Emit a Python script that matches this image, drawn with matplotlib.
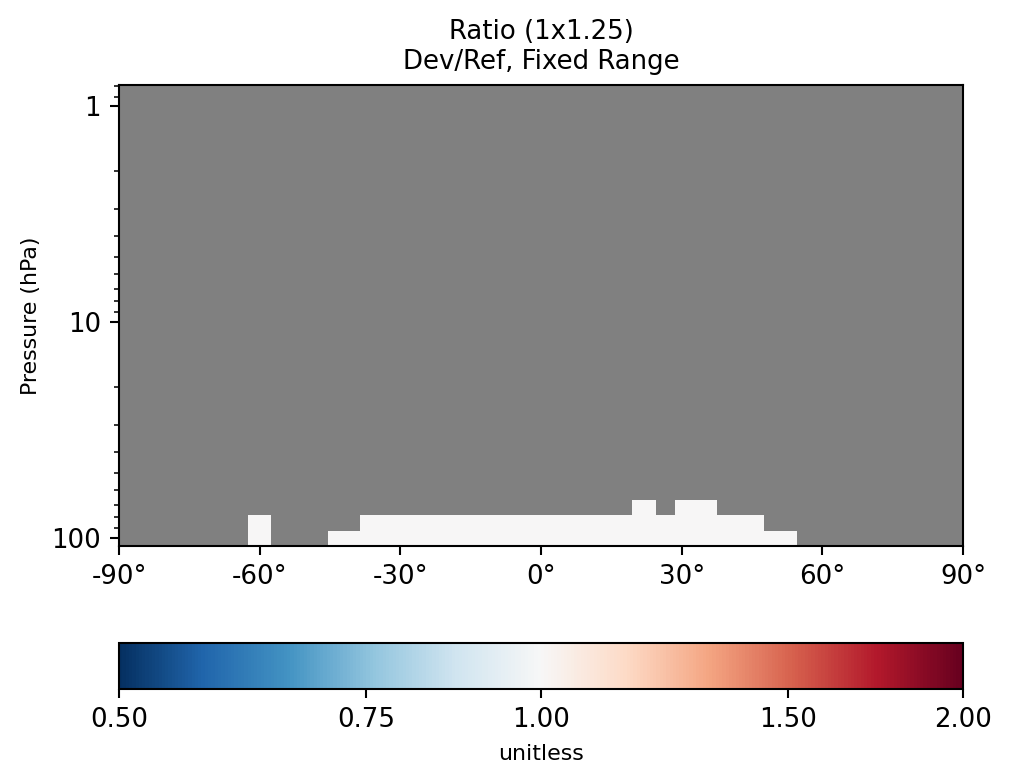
import numpy as np
import matplotlib
matplotlib.use("Agg")
import matplotlib.pyplot as plt
import matplotlib.colors as mcolors
import matplotlib.ticker as mticker

# GEOS-Chem 72-level pressure edges (hPa), bottom to top, within plotted range
pres_edges = [108.663, 92.3657, 78.5123, 66.6034, 56.3879, 47.6439, 40.1754,
              33.8100, 28.3678, 23.7458, 19.7916, 16.4571, 13.6434, 11.2769,
              9.2929, 7.6198, 6.2168, 5.0468, 4.0766, 3.2764, 2.6202, 2.0850,
              1.6508, 1.3005, 1.0194, 0.7951]

# latitude centres of the 1x1.25 grid (half-size polar boxes)
lat_centers = np.arange(-90, 91, 1.0)
lat_edges = np.concatenate(([-90.0], np.arange(-89.5, 90.0, 1.0), [90.0]))

# lat ranges (south, north) where Dev/Ref is defined (=1.0); elsewhere NaN
level0_ranges = [(-62.5, -57.5), (-45.5, 54.5)]
level1_ranges = [(-62.5, -57.5), (-38.5, 47.5)]
level2_ranges = [(19.5, 24.5), (28.5, 37.5)]
ratio_value = 1.0

nlev = len(pres_edges) - 1
ratio = np.full((nlev, len(lat_centers)), np.nan)
for k, ranges in enumerate([level0_ranges, level1_ranges, level2_ranges]):
    for lo, hi in ranges:
        ratio[k, (lat_centers > lo) & (lat_centers < hi)] = ratio_value

DPI = 187.5
plt.rcParams['font.family'] = 'DejaVu Sans'
fig = plt.figure(figsize=(1020 / DPI, 765 / DPI), dpi=DPI)
ax = fig.add_axes([0.1167, 0.2865, 0.8274, 0.6024])

cmap = plt.get_cmap('RdBu_r').copy()
cmap.set_bad('gray')
norm = mcolors.LogNorm(vmin=0.5, vmax=2.0)

mesh = ax.pcolormesh(lat_edges, pres_edges, np.ma.masked_invalid(ratio),
                     cmap=cmap, norm=norm)
ax.set_yscale('log')
ax.set_ylim(pres_edges[0], pres_edges[-1])
ax.set_xlim(-90, 90)
ax.set_yticks([1, 10, 100])
ax.yaxis.set_major_formatter(mticker.FormatStrFormatter('%g'))
ax.set_xticks(np.arange(-90, 91, 30))
ax.set_xticklabels([f"{int(v)}\u00b0" for v in np.arange(-90, 91, 30)])
ax.tick_params(labelsize=10)
ax.set_ylabel('Pressure (hPa)', fontsize=8.5)
ax.set_title('Ratio (1x1.25)\nDev/Ref, Fixed Range', fontsize=10)

cax = fig.add_axes([0.1167, 0.099, 0.8274, 0.06])
cb = fig.colorbar(mesh, cax=cax, orientation='horizontal')
cb.set_ticks([0.5, 0.75, 1.0, 1.5, 2.0])
cb.ax.xaxis.set_major_formatter(mticker.FormatStrFormatter('%.2f'))
cb.ax.minorticks_off()
cb.ax.tick_params(labelsize=10)
cb.set_label('unitless', fontsize=8.5)

fig.savefig('out.png', dpi=DPI)
